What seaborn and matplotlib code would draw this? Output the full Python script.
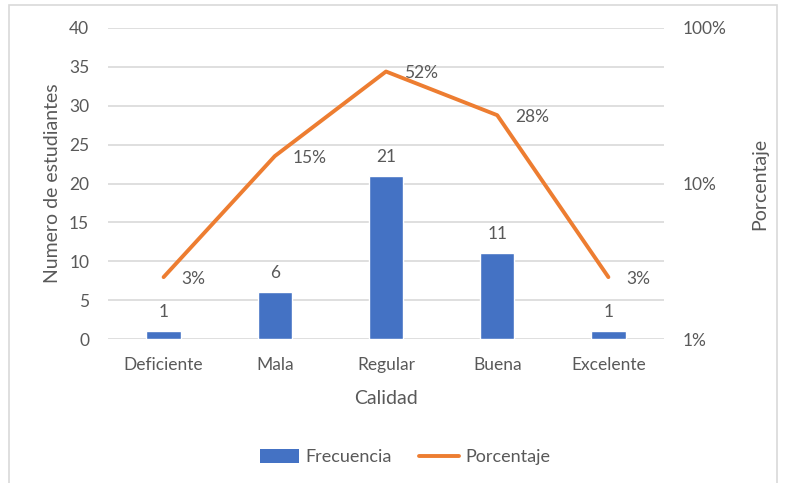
import numpy as np
import pandas as pd
import seaborn as sns
import matplotlib.pyplot as plt
from matplotlib.patches import Rectangle
from matplotlib.lines import Line2D
from matplotlib.patches import Patch

# Data
categorias = ["Deficiente", "Mala", "Regular", "Buena", "Excelente"]
frecuencia = [1, 6, 21, 11, 1]
porcentaje = [0.025, 0.15, 0.525, 0.275, 0.025]
etiquetas_pct = ["3%", "15%", "52%", "28%", "3%"]

df = pd.DataFrame({"Calidad": categorias, "Frecuencia": frecuencia,
                   "Porcentaje": porcentaje})
df["pos"] = np.arange(len(df))

BLUE = "#4472C4"
ORANGE = "#ED7D31"
TXT = "#595959"
GRID = "#D9D9D9"

sns.set_style("white")
plt.rcParams["font.family"] = ["Lato", "DejaVu Sans"]

fig = plt.figure(figsize=(7.85, 4.83), dpi=100)
ax = fig.add_axes([108 / 785, 1 - 339 / 483, (664 - 108) / 785, (339 - 28) / 483])

# chart border
fig.patches.append(Rectangle((9 / 785, -0.02), (777 - 9) / 785, 1 - 5 / 483 + 0.02,
                             transform=fig.transFigure, fill=False,
                             edgecolor=GRID, linewidth=1.2))

# -------------------------------
# Bars (Frecuencia)
# -------------------------------
sns.barplot(data=df, x="Calidad", y="Frecuencia", color=BLUE, width=0.31,
            saturation=1, ax=ax, zorder=3)
ax.bar_label(ax.containers[0], padding=8, fontsize=12.5, color=TXT)
ax.set_ylim(0, 40)
ax.set_yticks(range(0, 41, 5))
ax.set_xlim(-0.5, len(categorias) - 0.5)
ax.yaxis.grid(True, color=GRID, linewidth=1.2, zorder=0)
ax.set_axisbelow(True)
for s in ax.spines.values():
    s.set_visible(False)
ax.tick_params(axis="both", length=0, labelsize=12.5, labelcolor=TXT)
ax.tick_params(axis="x", pad=13)
ax.tick_params(axis="y", pad=13.5)
ax.set_xlabel("Calidad", fontsize=14, color=TXT, labelpad=12)
ax.set_ylabel("Numero de estudiantes", fontsize=14, color=TXT, labelpad=6)

# -------------------------------
# Line (Porcentaje) on log axis
# -------------------------------
ax2 = ax.twinx()
sns.lineplot(data=df, x="pos", y="Porcentaje", color=ORANGE, linewidth=2.8,
             ax=ax2, zorder=4)
ax2.set_yscale("log")
ax2.set_ylim(0.01, 1)
ax2.set_yticks([0.01, 0.1, 1])
ax2.set_yticklabels(["1%", "10%", "100%"])
ax2.minorticks_off()
for s in ax2.spines.values():
    s.set_visible(False)
ax2.tick_params(axis="y", length=0, labelsize=12.5, labelcolor=TXT, pad=13.5)
ax2.set_ylabel("Porcentaje", fontsize=14, color=TXT, labelpad=18)
ax2.set_xlabel("")
for x, y, lab in zip(df["pos"], porcentaje, etiquetas_pct):
    ax2.annotate(lab, (x, y), xytext=(13, -1), textcoords="offset points",
                 ha="left", va="center", fontsize=12.5, color=TXT)

# -------------------------------
# Legend
# -------------------------------
handles = [Patch(facecolor=BLUE, edgecolor="none"),
           Line2D([0], [0], color=ORANGE, linewidth=2.8)]
fig.legend(handles, ["Frecuencia", "Porcentaje"], loc="center",
           bbox_to_anchor=(405 / 785, 26 / 483), ncol=2, frameon=False,
           fontsize=13, labelcolor=TXT, handlelength=2.2, handleheight=0.8,
           handletextpad=0.35, columnspacing=1.5)

fig.savefig("out.png", dpi=100)
